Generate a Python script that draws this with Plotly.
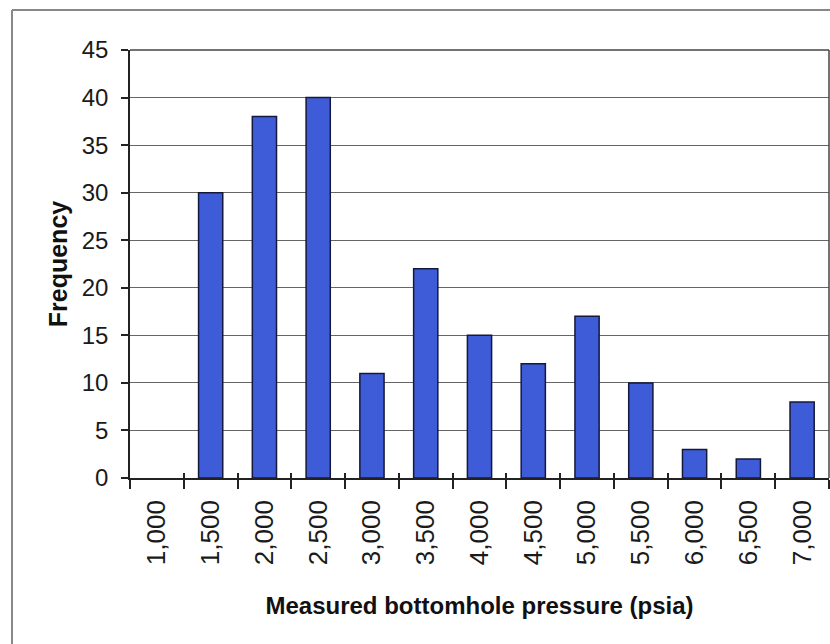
import plotly.graph_objects as go

categories = ["1,000", "1,500", "2,000", "2,500", "3,000", "3,500", "4,000",
              "4,500", "5,000", "5,500", "6,000", "6,500", "7,000"]
frequency = [0, 30, 38, 40, 11, 22, 15, 12, 17, 10, 3, 2, 8]
y_ticks = [0, 5, 10, 15, 20, 25, 30, 35, 40, 45]

W, H = 830, 644
ML, MR, MT, MB = 130, 1, 50, 166
pw, ph = W - ML - MR, H - MT - MB

FONT = "Liberation Sans, Arial, sans-serif"
outline_w = [0 if v == 0 else 1.5 for v in frequency]

fig = go.Figure()
fig.add_trace(go.Bar(
    x=categories, y=frequency,
    marker=dict(color="#3F5CD8", line=dict(color="#15183A", width=outline_w)),
    showlegend=False,
))
# invisible twin trace for the inside half of the crossing ticks
fig.add_trace(go.Bar(x=categories, y=frequency, xaxis="x2", opacity=0,
                     showlegend=False, hoverinfo="skip"))

fig.update_layout(
    width=W, height=H,
    margin=dict(l=ML, r=MR, t=MT, b=MB, autoexpand=False),
    paper_bgcolor="white", plot_bgcolor="white",
    bargap=0.55,
    xaxis=dict(
        type="category", tickson="boundaries", automargin=False,
        ticks="outside", ticklen=9, tickcolor="#222", tickwidth=1.5,
        showline=True, linecolor="#222", linewidth=1.5,
        showgrid=False, tickangle=-90,
        tickfont=dict(family=FONT, size=26, color="#1a1a1a"),
        ticklabelstandoff=10,
        title=dict(text="<b>Measured bottomhole pressure (psia)</b>",
                   font=dict(family=FONT, size=24, color="#111"),
                   standoff=33),
    ),
    xaxis2=dict(
        type="category", tickson="boundaries", overlaying="x", matches="x",
        ticks="inside", ticklen=5, tickcolor="#222", tickwidth=1.5,
        showticklabels=False, showgrid=False, showline=False, side="bottom",
        automargin=False,
    ),
    yaxis=dict(
        range=[0, 45], tickvals=y_ticks, automargin=False,
        ticks="outside", ticklen=7, tickcolor="#222", tickwidth=1.5,
        showline=True, linecolor="#222", linewidth=1.5,
        showgrid=True, gridcolor="#666", gridwidth=1,
        tickfont=dict(family=FONT, size=24, color="#1a1a1a"),
        ticklabelstandoff=8,
        title=dict(text="<b>Frequency</b>",
                   font=dict(family=FONT, size=25, color="#111"),
                   standoff=7),
        zeroline=False,
    ),
    shapes=[
        dict(type="line", xref="paper", yref="paper", x0=1, x1=1, y0=0, y1=1,
             line=dict(color="#444", width=1.5)),
        dict(type="line", xref="paper", yref="paper", x0=0, x1=1, y0=1, y1=1,
             line=dict(color="#444", width=1.5)),
        # outer chart frame (left and top edges)
        dict(type="line", xref="paper", yref="paper",
             x0=(12 - ML) / pw, x1=(12 - ML) / pw,
             y0=-MB / ph, y1=1 + (MT - 10) / ph,
             line=dict(color="#888", width=2)),
        dict(type="line", xref="paper", yref="paper",
             x0=(12 - ML) / pw, x1=(W - ML) / pw,
             y0=1 + (MT - 10) / ph, y1=1 + (MT - 10) / ph,
             line=dict(color="#888", width=2)),
    ],
)

fig.write_html(
    "out.html",
    config={"displayModeBar": False},
    post_script="document.body.style.margin='0';document.body.style.overflow='hidden';",
)
